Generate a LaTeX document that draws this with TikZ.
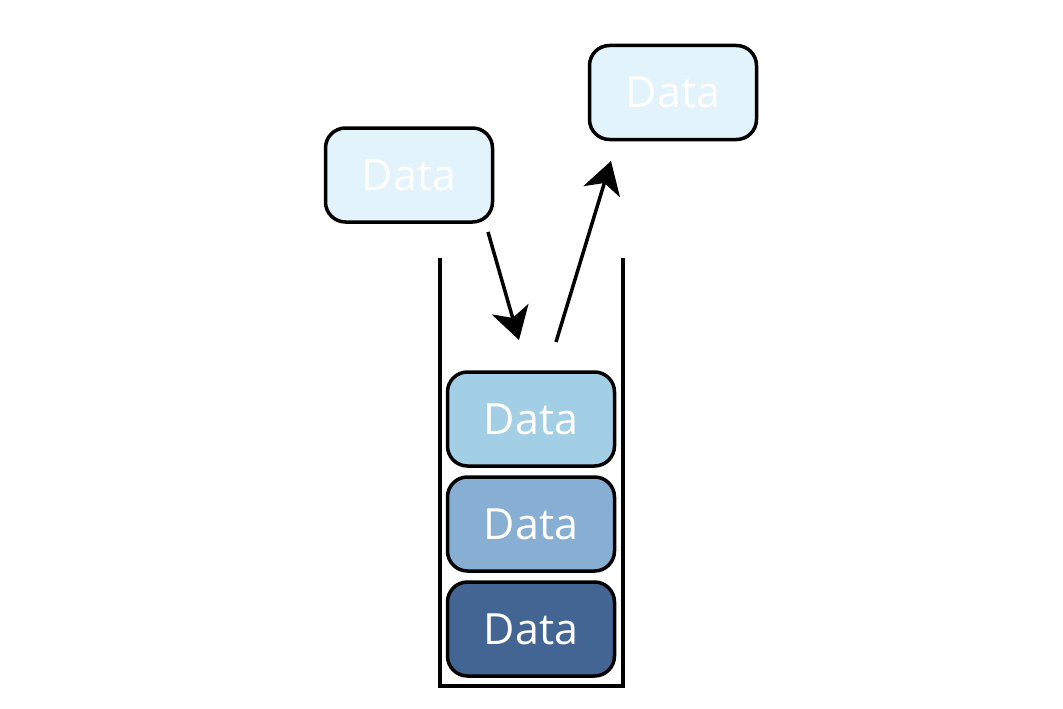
\documentclass[tikz,border=0pt]{standalone}
\usepackage{fontspec}
\setmainfont{Open Sans}
\usetikzlibrary{arrows.meta}
\definecolor{paleblue}{HTML}{E3F3FB}
\definecolor{topblue}{HTML}{A3CFE6}
\definecolor{midblue}{HTML}{87AED3}
\definecolor{darkblue}{HTML}{436594}
\tikzset{
  databox/.style={draw=black, line width=3.5pt, rounded corners=20pt,
    minimum width=167pt, minimum height=94pt, inner sep=0pt,
    text=white, font=\fontsize{43}{50}\selectfont},
  wall/.style={line width=3.5pt},
  flow/.style={line width=3.5pt, -{Stealth[length=32pt, width=38pt, inset=9pt]}}
}
\begin{document}
\begin{tikzpicture}[x=1pt, y=-1pt]
\useasboundingbox (0,0) rectangle (1063,709);
% container
\coordinate (tl) at (440,258);
\coordinate (bl) at (440,686);
\coordinate (br) at (623,686);
\coordinate (tr) at (623,258);
\draw[wall] (tl) -- (bl) -- (br) -- (tr);
% boxes
\node[databox, fill=paleblue] (in) at (409,175) {Data};
\node[databox, fill=paleblue] (out) at (673,92.5) {Data};
\node[databox, fill=topblue] (s1) at (531,419) {Data};
\node[databox, fill=midblue] (s2) at (531,524) {Data};
\node[databox, fill=darkblue] (s3) at (531,629) {Data};
% arrows
\coordinate (pushA) at (488,232);
\coordinate (pushB) at (519,340);
\coordinate (popA) at (556,342);
\coordinate (popB) at (611,161);
\draw[flow] (pushA) -- (pushB);
\draw[flow] (popA) -- (popB);
\end{tikzpicture}
\end{document}
